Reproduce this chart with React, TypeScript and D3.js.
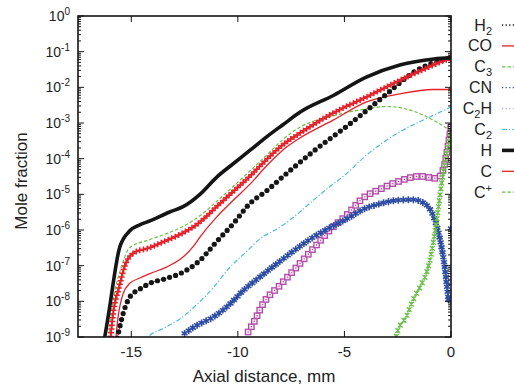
import React, { useEffect, useRef } from 'react';
import * as d3 from 'd3';

// ---- Data (axial distance in mm, mole fraction) ----
const xH2 = [-15.72, -15.54, -15.38, -15.07, -14.6, -14.13, -13.35, -12.57, -11.78, -11.0, -10.22, -9.44, -8.65, -7.87, -7.09, -6.3, -4.74, -3.18, -1.61, 0];
const vH2 = [6.3e-10, 1.9e-9, 4.6e-9, 1.32e-8, 2.2e-8, 3.2e-8, 4.4e-8, 6.6e-8, 1.41e-7, 4.7e-7, 1.5e-6, 5.5e-6, 1.26e-5, 3.2e-5, 7.9e-5, 1.9e-4, 9.5e-4, 5.4e-3, 3.0e-2, 6.8e-2];

const xCO = [-16.0, -15.85, -15.57, -15.3, -14.92, -14.13, -13.35, -12.57, -11.78, -11.0, -10.22, -9.44, -8.65, -7.87, -7.09, -5.53, -3.96, -2.39, -0.83, 0];
const vCO = [6.3e-10, 4.6e-9, 2.5e-8, 1.0e-7, 2.2e-7, 3.2e-7, 5.1e-7, 8.3e-7, 1.66e-6, 4.5e-6, 1.2e-5, 3.2e-5, 9.5e-5, 2.5e-4, 5.2e-4, 1.9e-3, 5.4e-3, 1.58e-2, 4.2e-2, 6.8e-2];

const xC3 = [-16.1, -15.85, -15.5, -15.07, -14.13, -13.35, -12.57, -11.78, -11.0, -10.22, -9.44, -8.65, -7.87, -7.09, -5.53, -3.96, -3.0, -1.92, -0.9, 0];
const vC3 = [6.3e-10, 1.07e-8, 7.9e-8, 3.2e-7, 5.4e-7, 7.9e-7, 1.26e-6, 2.5e-6, 6.3e-6, 1.66e-5, 4.5e-5, 1.26e-4, 3.5e-4, 7.6e-4, 1.58e-3, 2.5e-3, 2.9e-3, 2.3e-3, 1.26e-3, 6.0e-4];

const xCN = [-12.5, -11.94, -11.16, -10.38, -9.75, -8.97, -8.03, -7.24, -6.46, -5.68, -4.74, -4.12, -3.3, -2.55, -1.77, -1.3, -0.83, -0.52, -0.28, -0.12];
const vCN = [1.26e-9, 2.1e-9, 3.6e-9, 8.3e-9, 2.0e-8, 4.8e-8, 1.32e-7, 3.0e-7, 6.3e-7, 1.17e-6, 2.3e-6, 3.8e-6, 5.5e-6, 6.8e-6, 7.1e-6, 5.8e-6, 2.5e-6, 5.6e-7, 7.9e-8, 1.12e-8];
const xCNedge = [0];
const vCNedge = [1.1e-6];

const xC2H = [-9.52, -9.28, -8.81, -8.03, -7.24, -6.46, -5.68, -4.9, -4.12, -3.3, -2.55, -1.46, -0.67, -0.36, -0.2, 0];
const vC2H = [1.38e-9, 2.4e-9, 8.7e-9, 2.8e-8, 9.1e-8, 3.0e-7, 1.0e-6, 2.6e-6, 7.9e-6, 1.41e-5, 2.2e-5, 3.2e-5, 2.8e-5, 5.0e-5, 1.41e-4, 7.9e-4];

const xC2 = [-14.4, -14.21, -13.5, -12.72, -11.94, -11.16, -10.38, -9.59, -8.97, -8.03, -7.09, -6.46, -5.68, -4.9, -4.12, -2.55, -0.99, 0];
const vC2 = [6.3e-10, 1.0e-9, 1.74e-9, 3.2e-9, 7.9e-9, 2.4e-8, 8.9e-8, 2.5e-7, 5.6e-7, 1.2e-6, 3.2e-6, 6.8e-6, 1.66e-5, 3.8e-5, 1.05e-4, 5.0e-4, 1.48e-3, 2.8e-3];

const xH = [-16.3, -16.0, -15.85, -15.55, -15.07, -14.6, -14.13, -13.2, -12.57, -11.78, -11.0, -10.22, -9.44, -8.65, -7.87, -7.09, -5.5, -4.0, -2.4, -0.8, 0];
const vH = [6.3e-10, 7.9e-9, 3.2e-8, 3.2e-7, 9.5e-7, 1.4e-6, 1.8e-6, 3.2e-6, 4.5e-6, 1.0e-5, 3.0e-5, 7.2e-5, 1.7e-4, 4.1e-4, 9.1e-4, 2.0e-3, 6.0e-3, 1.9e-2, 4.2e-2, 6.2e-2, 6.8e-2];

const xC = [-15.75, -15.62, -15.38, -15.07, -14.6, -14.13, -13.35, -12.57, -12.1, -11.78, -11.0, -10.22, -9.44, -8.65, -7.87, -7.09, -5.53, -3.96, -2.39, -0.83, 0];
const vC = [6.3e-10, 3.6e-9, 1.66e-8, 3.2e-8, 4.5e-8, 6.0e-8, 9.1e-8, 1.74e-7, 3.4e-7, 6.3e-7, 2.3e-6, 6.8e-6, 1.9e-5, 6.3e-5, 1.78e-4, 3.8e-4, 1.2e-3, 3.9e-3, 6.6e-3, 8.7e-3, 8.7e-3];

const xCp = [-2.6, -2.54, -2.07, -1.77, -1.46, -1.15, -0.99, -0.67, -0.44, -0.2, 0];
const vCp = [7.1e-10, 1.26e-9, 4.0e-9, 1.12e-8, 2.5e-8, 6.3e-8, 1.41e-7, 1.86e-6, 2.0e-5, 1.41e-4, 5.0e-4];

const xTicks = [-15, -10, -5, 0];
const yExponents = [0, -1, -2, -3, -4, -5, -6, -7, -8, -9];

// legend: main text, subscript, trailing text, superscript
const legendMain = ['H', 'CO', 'C', 'CN', 'C', 'C', 'H', 'C', 'C'];
const legendSub = ['2', '', '3', '', '2', '2', '', '', ''];
const legendTail = ['', '', '', '', 'H', '', '', '', ''];
const legendSup = ['', '', '', '', '', '', '', '', '+'];

const RED = '#e5202a';
const GREEN = '#6cbf4a';
const BLUE = '#2d4da3';
const MAGENTA = '#b04aa6';
const PINK = '#dc9ad2';
const CYAN = '#4ebde6';
const BLACK = '#151515';

const FONT = '"Liberation Sans", Arial, Helvetica, sans-serif';

export default function App() {
  const ref = useRef<SVGSVGElement | null>(null);

  useEffect(() => {
    const svg = d3.select(ref.current);
    svg.selectAll('*').remove();
    const L = 78, R = 451, T = 16, B = 337;
    const x = d3.scaleLinear().domain([-17.5, 0]).range([L, R]);
    const y = d3.scaleLog().domain([1e-9, 1]).range([B, T]);

    svg.append('defs').append('clipPath').attr('id', 'plotclip')
      .append('rect').attr('x', L).attr('y', T).attr('width', R - L).attr('height', B - T);

    const plot = svg.append('g').attr('clip-path', 'url(#plotclip)');
    const line = d3.line<[number, number]>()
      .x(d => x(d[0])).y(d => y(d[1])).curve(d3.curveMonotoneX);
    const pts = (xs: number[], vs: number[]) => xs.map((v, i) => [v, vs[i]] as [number, number]);

    const drawLine = (xs: number[], vs: number[], color: string, width: number, dash: string | null) => {
      const p = plot.append('path').attr('d', line(pts(xs, vs)) as string)
        .attr('fill', 'none').attr('stroke', color).attr('stroke-width', width)
        .attr('stroke-linejoin', 'round');
      if (dash) p.attr('stroke-dasharray', dash);
      return p;
    };

    const markersAlong = (pathSel: any, spacing: number, draw: (g: any, px: number, py: number) => void) => {
      const node = pathSel.node() as SVGPathElement;
      const len = node.getTotalLength();
      const g = plot.append('g');
      for (let l = 0; l <= len; l += spacing) {
        const p = node.getPointAtLength(l);
        if (p.x < L - 4 || p.x > R + 4 || p.y < T - 4 || p.y > B + 4) continue;
        draw(g, p.x, p.y);
      }
      const pe = node.getPointAtLength(len);
      if (pe.y <= B) draw(g, pe.x, pe.y);
    };

    // C2 cyan dash-dot
    drawLine(xC2, vC2, CYAN, 1.2, '5,2,1.2,2');

    // C2H magenta squares
    const c2h = drawLine(xC2H, vC2H, PINK, 1, '1,2');
    markersAlong(c2h, 6.2, (g, px, py) => {
      g.append('rect').attr('x', px - 2.7).attr('y', py - 2.7).attr('width', 5.4).attr('height', 5.4)
        .attr('fill', '#f4e6f2').attr('stroke', MAGENTA).attr('stroke-width', 1.3);
      g.append('circle').attr('cx', px).attr('cy', py).attr('r', 0.7).attr('fill', MAGENTA);
    });

    // CN blue stars
    const cn = drawLine(xCN, vCN, BLUE, 1, '1,2');
    const star = d3.symbol().type(d3.symbolAsterisk).size(34);
    const drawStar = (g: any, px: number, py: number) => {
      g.append('path').attr('d', star() as string).attr('transform', `translate(${px},${py})`)
        .attr('fill', 'none').attr('stroke', BLUE).attr('stroke-width', 1.6);
      g.append('circle').attr('cx', px).attr('cy', py).attr('r', 1.6).attr('fill', BLUE);
    };
    markersAlong(cn, 5, drawStar);
    const cnEdgeG = plot.append('g');
    xCNedge.forEach((v, i) => drawStar(cnEdgeG, x(v), y(vCNedge[i])));

    // C+ green x markers
    const cp = drawLine(xCp, vCp, GREEN, 1.1, '3,2');
    markersAlong(cp, 6, (g, px, py) => {
      const s = 2.4;
      g.append('path').attr('d', `M${px - s},${py - s}L${px + s},${py + s}M${px - s},${py + s}L${px + s},${py - s}M${px},${py - s}L${px},${py + s}`)
        .attr('stroke', GREEN).attr('stroke-width', 1.3).attr('fill', 'none');
    });

    // C3 green dashed
    drawLine(xC3, vC3, GREEN, 1.2, '3.5,2');

    // C red thin
    drawLine(xC, vC, RED, 1.3, null);

    // H2 black dots
    const h2 = drawLine(xH2, vH2, BLACK, 1, '1,2');
    markersAlong(h2, 6.3, (g, px, py) => {
      g.append('circle').attr('cx', px).attr('cy', py).attr('r', 2.6).attr('fill', BLACK);
    });

    // CO red plus
    const co = drawLine(xCO, vCO, RED, 1.2, null);
    markersAlong(co, 3.8, (g, px, py) => {
      const s = 3;
      g.append('path').attr('d', `M${px - s},${py}L${px + s},${py}M${px},${py - s}L${px},${py + s}`)
        .attr('stroke', RED).attr('stroke-width', 1.5).attr('fill', 'none');
    });

    // H thick black
    drawLine(xH, vH, BLACK, 3.6, null);

    // ---- axes ----
    const ax = svg.append('g').attr('stroke', BLACK).attr('stroke-width', 1).attr('fill', 'none');
    yExponents.forEach(e => {
      const yy = y(Math.pow(10, e));
      ax.append('line').attr('x1', L).attr('x2', L + 6).attr('y1', yy).attr('y2', yy);
      ax.append('line').attr('x1', R).attr('x2', R - 6).attr('y1', yy).attr('y2', yy);
      if (e > -9) {
        for (let k = 2; k <= 9; k++) {
          const ym = y(k * Math.pow(10, e - 1));
          ax.append('line').attr('x1', L).attr('x2', L + 3).attr('y1', ym).attr('y2', ym);
          ax.append('line').attr('x1', R).attr('x2', R - 3).attr('y1', ym).attr('y2', ym);
        }
      }
    });
    xTicks.forEach(t => {
      const xx = x(t);
      ax.append('line').attr('x1', xx).attr('x2', xx).attr('y1', B).attr('y2', B - 6);
      ax.append('line').attr('x1', xx).attr('x2', xx).attr('y1', T).attr('y2', T + 6);
    });
    svg.append('rect').attr('x', L).attr('y', T).attr('width', R - L).attr('height', B - T)
      .attr('fill', 'none').attr('stroke', BLACK).attr('stroke-width', 1.6);

    const txt = svg.append('g').attr('font-family', FONT).attr('fill', '#222');
    yExponents.forEach(e => {
      const yy = y(Math.pow(10, e));
      const t = txt.append('text').attr('x', 70).attr('y', yy + 5).attr('text-anchor', 'end').attr('font-size', 14);
      t.append('tspan').text('10');
      t.append('tspan').attr('font-size', 10).attr('dy', -6).text(e === 0 ? '0' : `-${-e}`);
    });
    xTicks.forEach(tv => {
      txt.append('text').attr('x', x(tv)).attr('y', 357).attr('text-anchor', 'middle').attr('font-size', 15)
        .text(tv === 0 ? '0' : `-${-tv}`);
    });
    txt.append('text').attr('x', 264).attr('y', 382).attr('text-anchor', 'middle').attr('font-size', 17)
      .text('Axial distance, mm');
    txt.append('text').attr('transform', 'translate(27,181) rotate(-90)').attr('text-anchor', 'middle')
      .attr('font-size', 17).text('Mole fraction');

    // ---- legend ----
    const legStyles: { color: string; width: number; dash: string | null }[] = [
      { color: BLACK, width: 1.3, dash: '1.2,2.4' },
      { color: RED, width: 1.3, dash: null },
      { color: GREEN, width: 1.2, dash: '3.5,2' },
      { color: BLUE, width: 1.3, dash: '1.2,2.4' },
      { color: PINK, width: 1.3, dash: '1.2,2.4' },
      { color: CYAN, width: 1.2, dash: '5,2,1.2,2' },
      { color: BLACK, width: 3.6, dash: null },
      { color: RED, width: 1.3, dash: null },
      { color: GREEN, width: 1.2, dash: '3.5,2' },
    ];
    legendMain.forEach((m, i) => {
      const yy = 25 + i * 20.9;
      const t = txt.append('text').attr('x', 492).attr('y', yy + 5.5).attr('text-anchor', 'end').attr('font-size', 16);
      t.append('tspan').text(m);
      if (legendSub[i]) t.append('tspan').attr('font-size', 11).attr('dy', 4).text(legendSub[i]);
      if (legendTail[i]) t.append('tspan').attr('dy', -4).text(legendTail[i]);
      if (legendSup[i]) t.append('tspan').attr('font-size', 11).attr('dy', -6).text(legendSup[i]);
      const st = legStyles[i];
      const ln = svg.append('line').attr('x1', 502).attr('x2', 525).attr('y1', yy).attr('y2', yy)
        .attr('stroke', st.color).attr('stroke-width', st.width);
      if (st.dash) ln.attr('stroke-dasharray', st.dash);
    });
  }, []);

  return (
    <svg ref={ref} width={514} height={389}
      style={{ position: 'absolute', left: 0, top: 0, background: '#fff' }} />
  );
}
